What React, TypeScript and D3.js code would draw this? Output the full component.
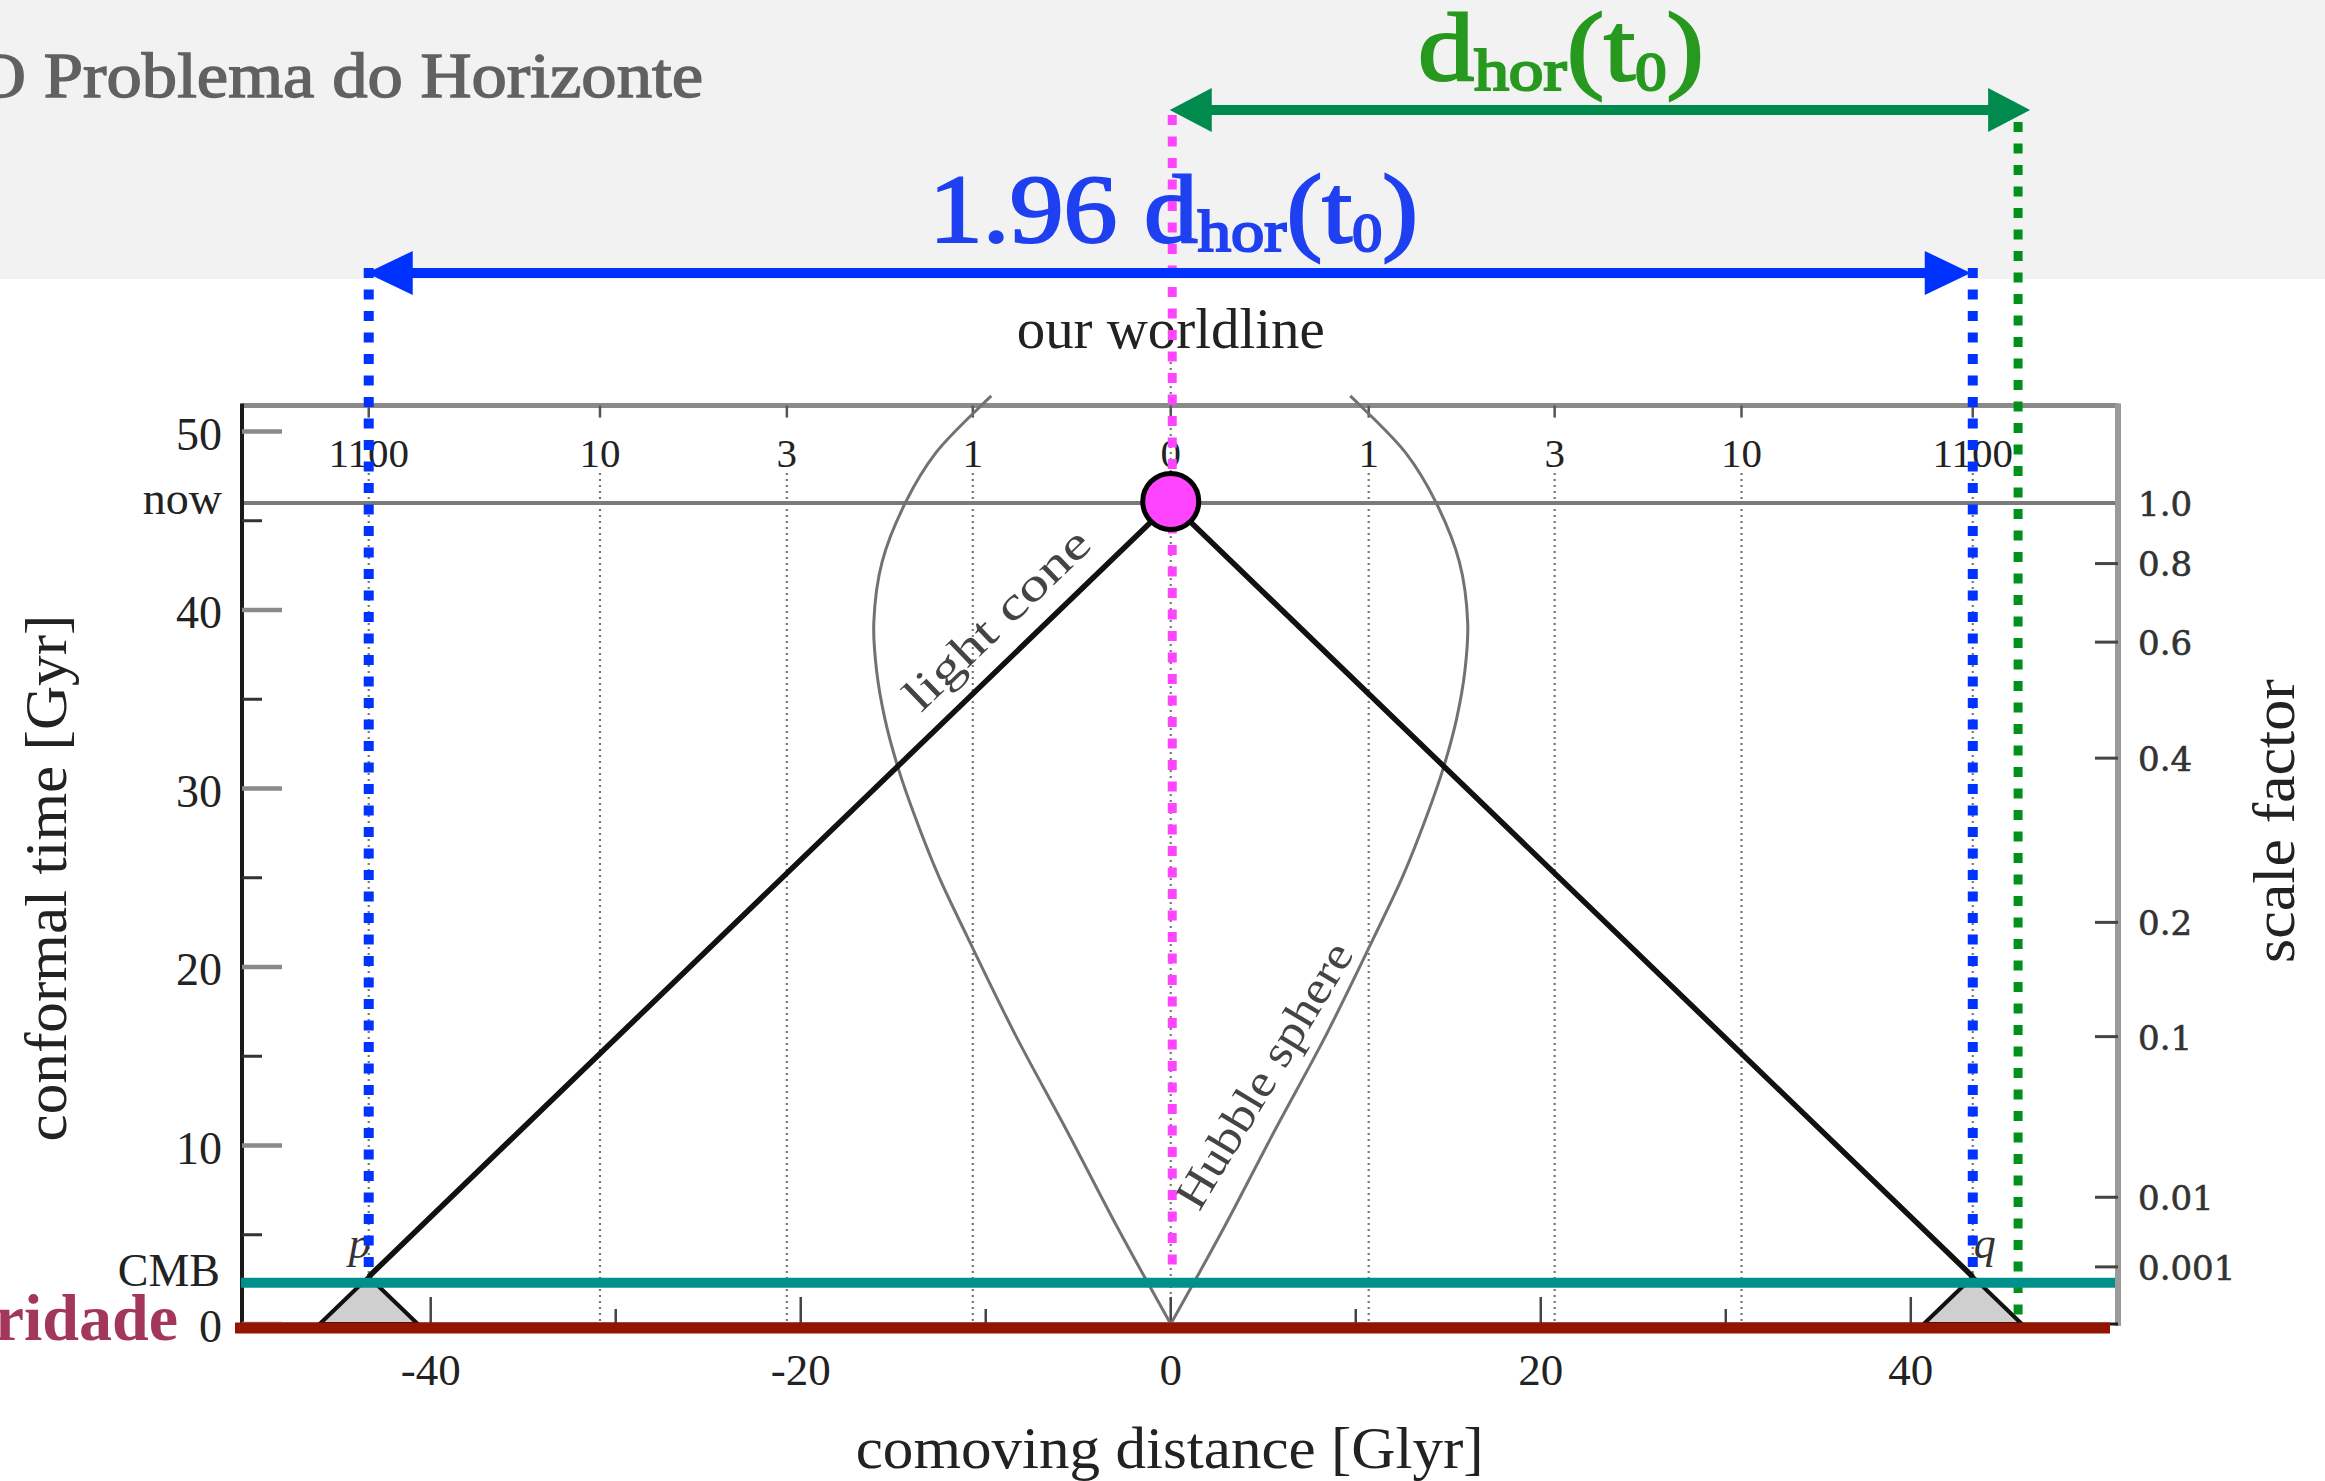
import React from 'react';
import * as d3 from 'd3';

const WIDTH = 2325;
const HEIGHT = 1481;

// comoving distance [Glyr] ticks along the bottom axis
const distanceMajorTicks = [-40, -20, 0, 20, 40];
const distanceMinorTicks = [-30, -10, 10, 30];

// conformal time [Gyr] ticks on the left axis
const timeMajorTicks = [0, 10, 20, 30, 40, 50];
const timeMinorTicks = [5, 15, 25, 35, 45];

// redshift markers along the top axis
const redshiftLabels = ['1100', '10', '3', '1', '0', '1', '3', '10', '1100'];
const redshiftDistances = [-43.35, -30.85, -20.75, -10.7, 0, 10.7, 20.75, 30.85, 43.35];

// scale factor markers on the right axis
const scaleFactorLabels = ['1.0', '0.8', '0.6', '0.4', '0.2', '0.1', '0.01', '0.001'];
const scaleFactorTimes = [46.0, 42.6, 38.2, 31.7, 22.5, 16.1, 7.1, 3.2];

// key epochs in conformal time [Gyr]
const NOW_TIME = 46.0;
const CMB_TIME = 2.65;
// comoving distances [Glyr]: horizon today, last-scattering points p and q
const HORIZON_DISTANCE = 45.8;
const CMB_DISTANCE = 43.35;

// past light cone: p -> here/now -> q
const lightCone: [number, number][] = [[-43.35, 2.65], [0, 46.0], [43.35, 2.65]];
// past light cones of p and q back to the singularity
const pCone: [number, number][] = [[-46.0, 0], [-43.35, 2.65], [-40.7, 0]];
const qCone: [number, number][] = [[40.7, 0], [43.35, 2.65], [46.0, 0]];

// Hubble sphere, one branch (drawn on both sides of our worldline)
const hubbleSphere: [number, number][] = [
  [0, 0], [2.85, 5.35], [5.6, 10.8], [8.4, 16.2], [11.0, 21.7], [12.55, 25.1],
  [13.85, 28.5], [14.75, 31.2], [15.45, 33.9], [15.9, 36.6], [16.05, 39.3],
  [15.6, 42.7], [14.3, 46.1], [12.7, 48.8], [10.2, 51.5], [9.7, 52.0],
];

const FIG_FONT = "'Liberation Serif', 'Times New Roman', serif";
const RIGHT_FONT = "'DejaVu Serif', serif";

const x = d3.scaleLinear().domain([-50.2, 51.2]).range([242, 2118]);
const y = d3.scaleLinear().domain([0, 51.45]).range([1324, 405.6]);

const line = d3
  .line<[number, number]>()
  .x((d) => x(d[0]))
  .y((d) => y(d[1]));
const smooth = d3
  .line<[number, number]>()
  .x((d) => x(d[0]))
  .y((d) => y(d[1]))
  .curve(d3.curveCatmullRom.alpha(0.5));

function DoubleArrow(props: {
  x1: number; x2: number; yPos: number; color: string;
  head: number; half: number; width: number;
}) {
  const { x1, x2, yPos, color, head, half, width } = props;
  return (
    <g fill={color}>
      <line x1={x1 + head * 0.8} x2={x2 - head * 0.8} y1={yPos} y2={yPos} stroke={color} strokeWidth={width} />
      <polygon points={`${x1},${yPos} ${x1 + head},${yPos - half} ${x1 + head},${yPos + half}`} />
      <polygon points={`${x2},${yPos} ${x2 - head},${yPos - half} ${x2 - head},${yPos + half}`} />
    </g>
  );
}

export default function App() {
  const [left, right] = x.range();
  const bottom = y(0);
  const top = y.range()[1];
  const x0 = x(0);
  const yNow = y(NOW_TIME);
  const yCmb = y(CMB_TIME);

  const lcAngle = (Math.atan2(y(NOW_TIME) - y(CMB_TIME), x(0) - x(-CMB_DISTANCE)) * 180) / Math.PI;
  const lcRad = (lcAngle * Math.PI) / 180;
  const lcAlong = -8.0;
  const lcBase: [number, number] = [
    x(lcAlong) + Math.sin(lcRad) * 22,
    y(NOW_TIME + lcAlong) - Math.cos(lcRad) * 22,
  ];

  const dotted = { stroke: '#777', strokeWidth: 2.2, strokeDasharray: '2 4' };
  const overlayDash = '10 11.5';

  return (
    <svg
      width={WIDTH}
      height={HEIGHT}
      viewBox={`0 0 ${WIDTH} ${HEIGHT}`}
      style={{ position: 'absolute', left: 0, top: 0, background: '#fff' }}
    >
      {/* slide header */}
      <rect x={0} y={0} width={WIDTH} height={279} fill="#f2f2f2" />
      <text
        x={-25}
        y={97}
        textLength={728}
        lengthAdjust="spacingAndGlyphs"
        fontFamily={FIG_FONT}
        fontSize={63}
        fill="#616161"
        stroke="#616161"
        strokeWidth={1.4}
      >
        O Problema do Horizonte
      </text>

      {/* redshift grid lines */}
      {redshiftDistances.map((d, i) =>
        d === 0 ? null : (
          <line key={`g${i}`} x1={x(d)} x2={x(d)} y1={473} y2={bottom - 2} {...dotted} />
        )
      )}
      {/* our worldline */}
      <line x1={x0} x2={x0} y1={356} y2={bottom - 2} {...dotted} />

      {/* frame */}
      <line x1={left} x2={right} y1={top} y2={top} stroke="#8a8a8a" strokeWidth={5} />
      <line x1={left} x2={right} y1={yNow} y2={yNow} stroke="#7a7a7a" strokeWidth={4} />
      <line x1={right} x2={right} y1={top - 2} y2={bottom + 2} stroke="#9a9a9a" strokeWidth={6} />
      <line x1={left} x2={left} y1={top - 2} y2={bottom} stroke="#1a1a1a" strokeWidth={4} />
      <line x1={left} x2={right} y1={bottom} y2={bottom} stroke="#1a1a1a" strokeWidth={3} />

      {/* left axis ticks */}
      {timeMajorTicks.map((t) => (
        <line key={`tm${t}`} x1={left} x2={left + 40} y1={y(t)} y2={y(t)} stroke="#8a8a8a" strokeWidth={4.5} />
      ))}
      {timeMinorTicks.map((t) => (
        <line key={`tn${t}`} x1={left} x2={left + 20} y1={y(t)} y2={y(t)} stroke="#333" strokeWidth={3} />
      ))}
      {/* bottom axis ticks */}
      {distanceMajorTicks.map((d) => (
        <line key={`dm${d}`} x1={x(d)} x2={x(d)} y1={bottom} y2={bottom - 27} stroke="#444" strokeWidth={2.5} />
      ))}
      {distanceMinorTicks.map((d) => (
        <line key={`dn${d}`} x1={x(d)} x2={x(d)} y1={bottom} y2={bottom - 15} stroke="#444" strokeWidth={2.5} />
      ))}
      {/* top axis ticks */}
      {redshiftDistances.map((d, i) => (
        <line key={`zt${i}`} x1={x(d)} x2={x(d)} y1={top} y2={top + 12} stroke="#555" strokeWidth={2.5} />
      ))}
      {/* right axis ticks */}
      {scaleFactorTimes.slice(1).map((t, i) => (
        <line key={`st${i}`} x1={right - 23} x2={right} y1={y(t)} y2={y(t)} stroke="#444" strokeWidth={3} />
      ))}

      {/* Hubble sphere */}
      <path d={smooth(hubbleSphere) || ''} fill="none" stroke="#727272" strokeWidth={3} />
      <path
        d={smooth(hubbleSphere.map((p) => [-p[0], p[1]] as [number, number])) || ''}
        fill="none"
        stroke="#727272"
        strokeWidth={3}
      />

      {/* past light cones of p and q */}
      <path d={(line(pCone) || '') + 'Z'} fill="#cfcfcf" stroke="#111" strokeWidth={4} strokeLinejoin="round" />
      <path d={(line(qCone) || '') + 'Z'} fill="#cfcfcf" stroke="#111" strokeWidth={4} strokeLinejoin="round" />

      {/* our past light cone */}
      <path d={line(lightCone) || ''} fill="none" stroke="#111" strokeWidth={5.5} strokeLinejoin="round" />

      {/* left tick labels */}
      <g fontFamily={FIG_FONT} fontSize={46} fill="#222" textAnchor="end">
        {timeMajorTicks.map((t) => (
          <text key={`tl${t}`} x={222} y={y(t)} dy="0.4em">
            {t}
          </text>
        ))}
        <text x={222} y={yNow} dy="0.25em">now</text>
        <text x={220} y={yCmb} dy="0.2em">CMB</text>
      </g>
      {/* top tick labels */}
      <g fontFamily={FIG_FONT} fontSize={41} fill="#222" textAnchor="middle">
        {redshiftLabels.map((lab, i) => (
          <text key={`zl${i}`} x={x(redshiftDistances[i])} y={467}>
            {lab}
          </text>
        ))}
      </g>
      {/* bottom tick labels */}
      <g fontFamily={FIG_FONT} fontSize={45} fill="#222" textAnchor="middle">
        {distanceMajorTicks.map((d) => (
          <text key={`dl${d}`} x={x(d)} y={1385}>
            {d}
          </text>
        ))}
      </g>
      {/* right tick labels */}
      <g fontFamily={RIGHT_FONT} fontSize={34} fill="#333" stroke="#333" strokeWidth={0.6} textAnchor="start">
        {scaleFactorLabels.map((lab, i) => (
          <text key={`sl${i}`} x={2138} y={y(scaleFactorTimes[i])} dy="0.38em">
            {lab}
          </text>
        ))}
      </g>

      {/* axis titles */}
      <text
        x={x0 - 1}
        y={1468}
        textAnchor="middle"
        fontFamily={FIG_FONT}
        fontSize={60}
        fill="#222"
        textLength={628}
        lengthAdjust="spacingAndGlyphs"
      >
        comoving distance [Glyr]
      </text>
      <text
        transform="translate(66,878) rotate(-90)"
        textAnchor="middle"
        fontFamily={FIG_FONT}
        fontSize={60}
        fill="#222"
        textLength={527}
        lengthAdjust="spacingAndGlyphs"
      >
        conformal time [Gyr]
      </text>
      <text
        transform="translate(2294,821) rotate(-90)"
        textAnchor="middle"
        fontFamily={FIG_FONT}
        fontSize={60}
        fill="#222"
        textLength={284}
        lengthAdjust="spacingAndGlyphs"
      >
        scale factor
      </text>
      <text
        x={x0}
        y={348}
        textAnchor="middle"
        fontFamily={FIG_FONT}
        fontSize={56}
        fill="#222"
        textLength={308}
        lengthAdjust="spacingAndGlyphs"
      >
        our worldline
      </text>

      {/* curve labels */}
      <text
        transform={`translate(${lcBase[0]},${lcBase[1]}) rotate(${lcAngle})`}
        textAnchor="middle"
        fontFamily={FIG_FONT}
        fontSize={46}
        fill="#444"
        textLength={240}
        lengthAdjust="spacingAndGlyphs"
      >
        light cone
      </text>
      <text
        transform="translate(1277,1083) rotate(-59)"
        textAnchor="middle"
        fontFamily={FIG_FONT}
        fontSize={46}
        fill="#444"
        textLength={302}
        lengthAdjust="spacingAndGlyphs"
      >
        Hubble sphere
      </text>
      <text x={x(-CMB_DISTANCE) - 9} y={1258} textAnchor="middle" fontFamily={FIG_FONT} fontStyle="italic" fontSize={44} fill="#333">
        p
      </text>
      <text x={x(CMB_DISTANCE) + 12} y={1258} textAnchor="middle" fontFamily={FIG_FONT} fontStyle="italic" fontSize={44} fill="#333">
        q
      </text>

      {/* horizon annotations */}
      <text
        x={929}
        y={242}
        fontFamily={FIG_FONT}
        fontSize={97}
        fill="#1e40f0"
        stroke="#1e40f0"
        strokeWidth={2.2}
        textLength={489}
        lengthAdjust="spacingAndGlyphs"
      >
        1.96 d<tspan fontSize={60} dy={9}>hor</tspan>
        <tspan dy={-9}>(t</tspan>
        <tspan fontSize={54} dy={9}>0</tspan>
        <tspan dy={-9}>)</tspan>
      </text>
      <text
        x={1418}
        y={80}
        fontFamily={FIG_FONT}
        fontSize={97}
        fill="#26991e"
        stroke="#26991e"
        strokeWidth={2.2}
        textLength={286}
        lengthAdjust="spacingAndGlyphs"
      >
        d<tspan fontSize={60} dy={10}>hor</tspan>
        <tspan dy={-10}>(t</tspan>
        <tspan fontSize={54} dy={10}>0</tspan>
        <tspan dy={-10}>)</tspan>
      </text>

      {/* vertical guides */}
      <line x1={x(-CMB_DISTANCE)} x2={x(-CMB_DISTANCE)} y1={268} y2={yCmb - 2} stroke="#0033ff" strokeWidth={10} strokeDasharray={overlayDash} />
      <line x1={x(CMB_DISTANCE)} x2={x(CMB_DISTANCE)} y1={268} y2={yCmb - 2} stroke="#0033ff" strokeWidth={10} strokeDasharray={overlayDash} />
      <line x1={x(HORIZON_DISTANCE)} x2={x(HORIZON_DISTANCE)} y1={122} y2={bottom - 3} stroke="#00901c" strokeWidth={9} strokeDasharray={overlayDash} />
      <line x1={x0 + 1.5} x2={x0 + 1.5} y1={115} y2={yCmb - 2} stroke="#ff44ff" strokeWidth={9} strokeDasharray={overlayDash} />

      {/* CMB and singularity */}
      <line x1={left - 1} x2={2115} y1={yCmb + 6} y2={yCmb + 6} stroke="#00908c" strokeWidth={10} />
      <line x1={235} x2={2110} y1={bottom + 4} y2={bottom + 4} stroke="#921500" strokeWidth={11} />
      <text x={178} y={1340} textAnchor="end" fontFamily={FIG_FONT} fontWeight="bold" fontSize={66} fill="#a3375b">
        Singularidade
      </text>

      {/* here and now */}
      <circle cx={x0} cy={yNow - 1.5} r={28} fill="#ff44ff" stroke="#000" strokeWidth={5} />

      {/* arrows */}
      <DoubleArrow x1={x(-CMB_DISTANCE) - 2} x2={x(CMB_DISTANCE) - 2} yPos={273} color="#0032ff" head={46} half={22} width={10} />
      <DoubleArrow x1={x0 - 1} x2={x(HORIZON_DISTANCE) + 12} yPos={110} color="#008a4e" head={42} half={22} width={10} />
    </svg>
  );
}
